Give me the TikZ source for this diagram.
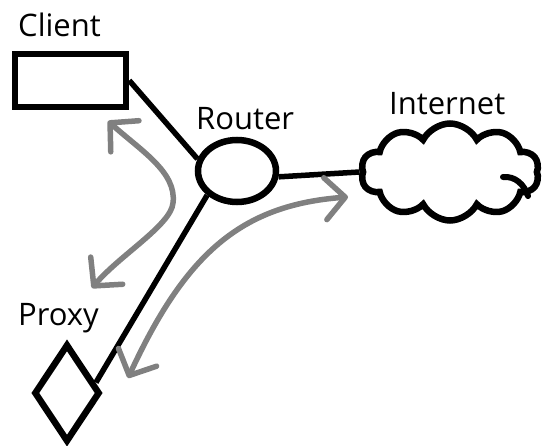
\documentclass[tikz,border=0pt]{standalone}
\usepackage{fontspec}
\setmainfont{Open Sans}
\usetikzlibrary{shapes.geometric,shapes.symbols,arrows.meta}
\definecolor{flowgray}{RGB}{128,128,128}
\tikzset{
  device/.style={draw=black, line width=6.5pt, inner sep=0pt, fill=white},
  link/.style={draw=black, line width=5.5pt},
  flow/.style={draw=flowgray, line width=5.5pt, line cap=round,
    {Straight Barb[length=20pt, width=42pt, round]}-{Straight Barb[length=20pt, width=42pt, round]}},
  label/.style={font=\fontsize{31}{36}\selectfont, anchor=base west, inner sep=0pt}
}
\begin{document}
\begin{tikzpicture}[x=1pt, y=-1pt]
  \useasboundingbox (0,0) rectangle (545,446);

  % devices
  \node[device, rectangle, minimum width=111pt, minimum height=53pt] (client) at (70.5,80.5) {};
  \node[device, ellipse, minimum width=78pt, minimum height=62pt] (router) at (237,171) {};
  \node[device, cloud, cloud puffs=10, cloud puff arc=125, aspect=1.9,
        minimum width=178pt, minimum height=97pt] (internet) at (450,172) {};
  \node[device, diamond, minimum width=66pt, minimum height=98pt] (proxy) at (67,393) {};

  % inner curl of the cloud outline
  \draw[black, line width=6pt, line cap=round]
    (503,177) .. controls (515,176) and (524,184) .. (528,196);

  % labels
  \node[label] (lclient) at (18,37) {Client};
  \node[label] (lrouter) at (196,130) {Router};
  \node[label] (linternet) at (389,115) {Internet};
  \node[label] (lproxy) at (18,325) {Proxy};

  % wired links
  \draw[link] (client.east) -- (router.163);
  \draw[link] (router.-8) -- (internet.west);
  \draw[link] (router.-141) -- (proxy.20);

  % traffic flows
  \coordinate (c1) at (108,121);
  \coordinate (c2) at (173,203);
  \coordinate (c3) at (92,288);
  \draw[flow] (c1) .. controls (140,150) and (177,172) .. (c2)
                   .. controls (171,225) and (120,255) .. (c3);

  \coordinate (p1) at (128,378);
  \coordinate (p2) at (348,197);
  \draw[flow] (p1) .. controls (185,255) and (240,205) .. (p2);
\end{tikzpicture}
\end{document}
